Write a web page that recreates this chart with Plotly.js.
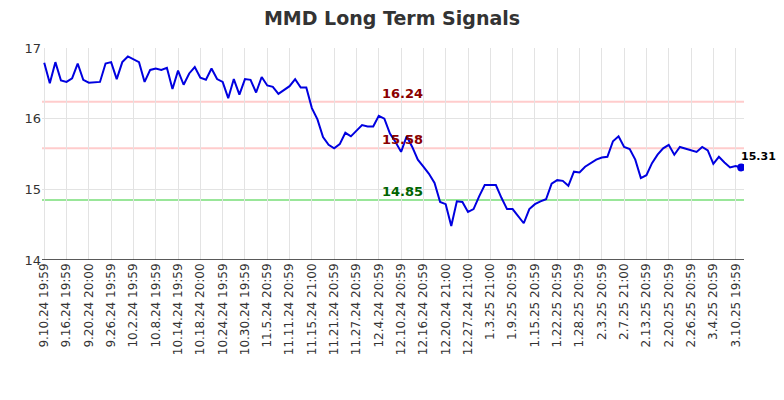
<!DOCTYPE html>
<html>
<head>
<meta charset="utf-8">
<script src="https://cdn.plot.ly/plotly-3.0.1.min.js"></script>
<style>html,body{margin:0;padding:0;background:#fff;}#chart{width:784px;height:400px;}</style>
</head>
<body>
<div id="chart"></div>
<script>
// Closing values (one per trading session, in order)
const prices = [
  16.79, 16.50, 16.80, 16.54, 16.52, 16.57, 16.78, 16.55, 16.51, 16.52,
  16.52, 16.78, 16.80, 16.56, 16.80, 16.88, 16.84, 16.80, 16.52, 16.69,
  16.71, 16.69, 16.72, 16.42, 16.68, 16.48, 16.64, 16.73, 16.58, 16.55,
  16.71, 16.56, 16.52, 16.29, 16.56, 16.34, 16.56, 16.55, 16.37, 16.59,
  16.47, 16.45, 16.35, 16.41, 16.46, 16.56, 16.44, 16.44, 16.15, 15.99,
  15.74, 15.63, 15.58, 15.64, 15.80, 15.75, 15.83, 15.91, 15.89, 15.89,
  16.04, 16.00, 15.79, 15.67, 15.53, 15.75, 15.60, 15.42, 15.32, 15.22,
  15.09, 14.82, 14.79, 14.48, 14.83, 14.82, 14.68, 14.72, 14.90, 15.06,
  15.06, 15.06, 14.88, 14.72, 14.72, 14.62, 14.52, 14.72, 14.79, 14.83,
  14.86, 15.08, 15.13, 15.12, 15.05, 15.25, 15.24, 15.32, 15.37, 15.42,
  15.45, 15.46, 15.68, 15.75, 15.60, 15.57, 15.42, 15.16, 15.20, 15.37,
  15.49, 15.58, 15.63, 15.49, 15.60, 15.58, 15.56, 15.53, 15.60, 15.55,
  15.36, 15.46, 15.38, 15.31, 15.33, 15.31
];

// Tick labels (every 4th session)
const tickLabels = [
  "9.10.24 19:59", "9.16.24 19:59", "9.20.24 20:00", "9.26.24 19:59",
  "10.2.24 19:59", "10.8.24 19:59", "10.14.24 19:59", "10.18.24 20:00",
  "10.24.24 19:59", "10.30.24 19:59", "11.5.24 20:59", "11.11.24 20:59",
  "11.15.24 21:00", "11.21.24 20:59", "11.27.24 20:59", "12.4.24 20:59",
  "12.10.24 20:59", "12.16.24 20:59", "12.20.24 21:00", "12.27.24 21:00",
  "1.3.25 21:00", "1.9.25 20:59", "1.15.25 20:59", "1.22.25 20:59",
  "1.28.25 20:59", "2.3.25 20:59", "2.7.25 21:00", "2.13.25 20:59",
  "2.20.25 20:59", "2.26.25 20:59", "3.4.25 20:59", "3.10.25 19:59"
];
const tickStep = 4;

// Signal levels
const levelValues = [16.24, 15.58, 14.85];
const levelLabels = ["16.24", "15.58", "14.85"];
const levelLineColors = ["#ffcccc", "#ffcccc", "#99e699"];
const levelTextColors = ["#8b0000", "#8b0000", "#006400"];

const xs = prices.map((_, i) => i);
const tickVals = tickLabels.map((_, i) => i * tickStep);
const last = prices.length - 1;
const labelX = 64.3;

const traces = [
  {
    x: xs, y: prices, type: "scatter", mode: "lines",
    line: {color: "#0000e0", width: 2}, hoverinfo: "skip", showlegend: false
  },
  {
    x: [last], y: [prices[last]], type: "scatter", mode: "markers",
    marker: {color: "#0000e0", size: 8}, showlegend: false
  }
];

const shapes = levelValues.map((v, k) => ({
  type: "line", xref: "paper", x0: 0, x1: 1, yref: "y", y0: v, y1: v,
  line: {color: levelLineColors[k], width: 2}, layer: "below"
}));

const annotations = levelValues.map((v, k) => ({
  x: labelX, y: v, xref: "x", yref: "y", text: "<b>" + levelLabels[k] + "</b>",
  showarrow: false, xanchor: "center", yanchor: "bottom", yshift: -1,
  font: {family: "DejaVu Sans", size: 13, color: levelTextColors[k]}
}));
annotations.push({
  x: last, y: prices[last], xref: "x", yref: "y",
  text: "<b>" + prices[last].toFixed(2) + "</b>", showarrow: false,
  xanchor: "left", yanchor: "bottom", xshift: -2, yshift: 2,
  font: {family: "DejaVu Sans", size: 11, color: "#000"}
});

const layout = {
  width: 784, height: 400,
  margin: {l: 42, r: 40, t: 48, b: 140},
  paper_bgcolor: "#fff", plot_bgcolor: "#fff",
  font: {family: "DejaVu Sans", color: "#333"},
  title: {text: "<b>MMD Long Term Signals</b>", x: 0.5, xanchor: "center", y: 0.97, yanchor: "top",
          font: {family: "DejaVu Sans", size: 19, color: "#333"}},
  xaxis: {
    range: [-0.4, last + 0.5], tickmode: "array", tickvals: tickVals, ticktext: tickLabels,
    tickangle: -90, tickfont: {family: "DejaVu Sans", size: 12, color: "#333"},
    showgrid: true, gridcolor: "#e3e3e3", gridwidth: 1, zeroline: false,
    showline: false, ticks: ""
  },
  yaxis: {
    range: [14, 17], tickvals: [14, 15, 16, 17], ticktext: ["14", "15", "16", "17"],
    tickfont: {family: "DejaVu Sans", size: 13, color: "#333"},
    showgrid: true, gridcolor: "#e3e3e3", gridwidth: 1, zeroline: false,
    showline: false, ticks: "", ticklen: 0
  },
  shapes: shapes.concat([{
    type: "line", xref: "paper", x0: 0, x1: 1, yref: "y", y0: 14, y1: 14,
    line: {color: "#222", width: 1.5}
  }]),
  annotations: annotations
};

Plotly.newPlot("chart", traces, layout, {displayModeBar: false, staticPlot: true});
</script>
</body>
</html>
